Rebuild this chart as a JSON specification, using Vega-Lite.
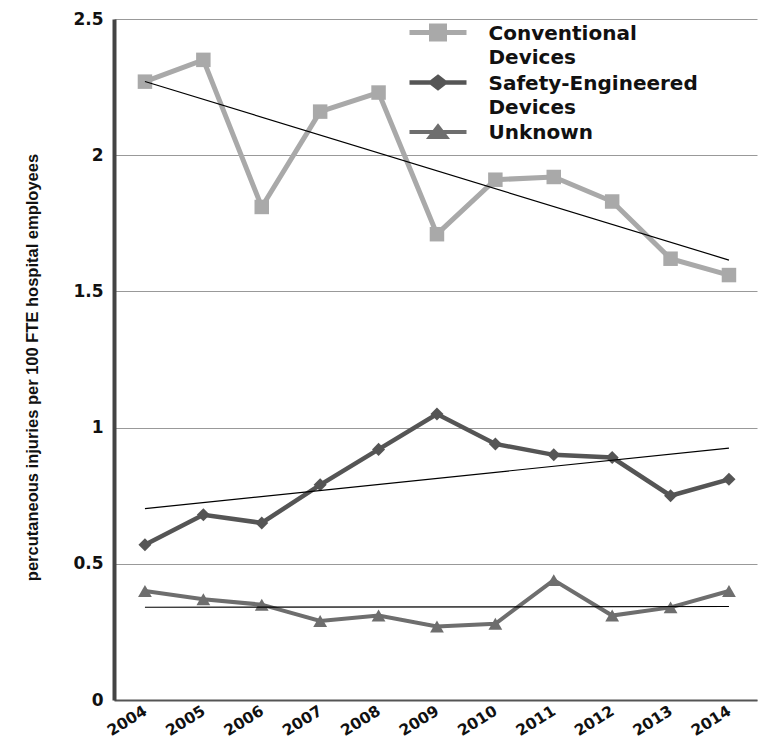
{
  "$schema": "https://vega.github.io/schema/vega-lite/v6.json",
  "width": 643,
  "height": 681,
  "autosize": {"type": "none"},
  "padding": {"left": 114, "top": 19, "right": 16, "bottom": 42},
  "background": "white",
  "config": {"view": {"stroke": null}, "font": "Liberation Sans"},
  "data": {
    "values": [
      {"year": 2004, "series": "Conventional Devices", "value": 2.27},
      {"year": 2005, "series": "Conventional Devices", "value": 2.35},
      {"year": 2006, "series": "Conventional Devices", "value": 1.81},
      {"year": 2007, "series": "Conventional Devices", "value": 2.16},
      {"year": 2008, "series": "Conventional Devices", "value": 2.23},
      {"year": 2009, "series": "Conventional Devices", "value": 1.71},
      {"year": 2010, "series": "Conventional Devices", "value": 1.91},
      {"year": 2011, "series": "Conventional Devices", "value": 1.92},
      {"year": 2012, "series": "Conventional Devices", "value": 1.83},
      {"year": 2013, "series": "Conventional Devices", "value": 1.62},
      {"year": 2014, "series": "Conventional Devices", "value": 1.56},
      {"year": 2004, "series": "Safety-Engineered Devices", "value": 0.57},
      {"year": 2005, "series": "Safety-Engineered Devices", "value": 0.68},
      {"year": 2006, "series": "Safety-Engineered Devices", "value": 0.65},
      {"year": 2007, "series": "Safety-Engineered Devices", "value": 0.79},
      {"year": 2008, "series": "Safety-Engineered Devices", "value": 0.92},
      {"year": 2009, "series": "Safety-Engineered Devices", "value": 1.05},
      {"year": 2010, "series": "Safety-Engineered Devices", "value": 0.94},
      {"year": 2011, "series": "Safety-Engineered Devices", "value": 0.9},
      {"year": 2012, "series": "Safety-Engineered Devices", "value": 0.89},
      {"year": 2013, "series": "Safety-Engineered Devices", "value": 0.75},
      {"year": 2014, "series": "Safety-Engineered Devices", "value": 0.81},
      {"year": 2004, "series": "Unknown", "value": 0.4},
      {"year": 2005, "series": "Unknown", "value": 0.37},
      {"year": 2006, "series": "Unknown", "value": 0.35},
      {"year": 2007, "series": "Unknown", "value": 0.29},
      {"year": 2008, "series": "Unknown", "value": 0.31},
      {"year": 2009, "series": "Unknown", "value": 0.27},
      {"year": 2010, "series": "Unknown", "value": 0.28},
      {"year": 2011, "series": "Unknown", "value": 0.44},
      {"year": 2012, "series": "Unknown", "value": 0.31},
      {"year": 2013, "series": "Unknown", "value": 0.34},
      {"year": 2014, "series": "Unknown", "value": 0.4}
    ]
  },
  "encoding": {
    "x": {
      "field": "year",
      "type": "quantitative",
      "scale": {"domain": [2003.47, 2014.48], "nice": false, "zero": false},
      "axis": {
        "values": [2004, 2005, 2006, 2007, 2008, 2009, 2010, 2011, 2012, 2013, 2014],
        "format": "d",
        "grid": false,
        "ticks": false,
        "labelAngle": -32,
        "labelAlign": "right",
        "labelBaseline": "middle",
        "labelPadding": 9,
        "labelFont": "DejaVu Sans",
        "labelFontWeight": "bold",
        "labelFontSize": 15.5,
        "labelColor": "#111111",
        "labelFlush": false,
        "labelOverlap": false,
        "domainColor": "#555555",
        "domainWidth": 2,
        "title": null
      }
    },
    "y": {
      "field": "value",
      "type": "quantitative",
      "scale": {"domain": [0, 2.5], "nice": false},
      "axis": {
        "values": [0, 0.5, 1, 1.5, 2, 2.5],
        "format": "~g",
        "ticks": false,
        "tickSize": 0,
        "labelFont": "DejaVu Sans",
        "labelFontWeight": "bold",
        "labelFontSize": 17,
        "labelColor": "#111111",
        "labelPadding": 11,
        "domainColor": "#444444",
        "domainWidth": 4,
        "gridColor": "#999999",
        "gridWidth": 1.2,
        "title": "percutaneous injuries per 100 FTE hospital employees",
        "titleFont": "Liberation Sans",
        "titleFontSize": 16.5,
        "titleFontWeight": "bold",
        "titleColor": "#111111",
        "titleAngle": -90,
        "titleX": -82,
        "titleY": 348,
        "titleAlign": "center",
        "titleBaseline": "middle"
      }
    }
  },
  "layer": [
    {
      "mark": {"type": "line"},
      "encoding": {
        "color": {
          "field": "series",
          "type": "nominal",
          "scale": {
            "domain": ["Conventional Devices", "Safety-Engineered Devices", "Unknown"],
            "range": ["#a9a9a9", "#555555", "#6e6e6e"]
          },
          "legend": {
            "title": null,
            "orient": "none",
            "legendX": 311.5,
            "legendY": 1,
            "padding": 0,
            "symbolSize": 400,
            "symbolStrokeWidth": 3.5,
            "labelFont": "DejaVu Sans",
            "labelFontWeight": "bold",
            "labelFontSize": 20,
            "labelColor": "#111111",
            "labelOffset": 38,
            "labelLimit": 400,
            "labelExpr": "split(datum.label, ' ')",
            "rowPadding": 0,
            "encode": {
              "symbols": {
                "update": {
                  "shape": {"signal": "datum.value == 'Conventional Devices' ? 'M-2.85,0H2.85M-0.65,-0.65H0.65V0.65H-0.65Z' : (datum.value == 'Safety-Engineered Devices' ? 'M-2.85,0H2.85M0,-0.55L0.7,0L0,0.55L-0.7,0Z' : 'M-2.85,0H2.85M0,-0.55L0.8,0.5L-0.8,0.5Z')"},
                  "fill": {"scale": "color", "field": "value"},
                  "stroke": {"scale": "color", "field": "value"},
                  "strokeWidth": {"value": 3.5},
                  "fillOpacity": {"value": 1},
                  "strokeOpacity": {"value": 1},
                  "opacity": {"value": 1}
                }
              },
              "labels": {
                "update": {
                  "baseline": {"value": "top"},
                  "dy": {"value": -9},
                  "lineHeight": {"value": 24}
                }
              }
            }
          }
        },
        "strokeWidth": {
          "field": "series",
          "type": "nominal",
          "scale": {
            "domain": ["Conventional Devices", "Safety-Engineered Devices", "Unknown"],
            "range": [5, 4, 3.5]
          },
          "legend": null
        }
      }
    },
    {
      "transform": [{"filter": "datum.series == 'Conventional Devices'"}],
      "mark": {"type": "point", "shape": "square", "filled": true, "opacity": 1, "size": 210},
      "encoding": {"color": {"field": "series", "type": "nominal", "legend": null}}
    },
    {
      "transform": [{"filter": "datum.series == 'Safety-Engineered Devices'"}],
      "mark": {"type": "point", "shape": "diamond", "filled": true, "opacity": 1, "size": 170},
      "encoding": {"color": {"field": "series", "type": "nominal", "legend": null}}
    },
    {
      "transform": [{"filter": "datum.series == 'Unknown'"}],
      "mark": {"type": "point", "shape": "triangle-up", "filled": true, "opacity": 1, "size": 190},
      "encoding": {"color": {"field": "series", "type": "nominal", "legend": null}}
    },
    {
      "transform": [{"regression": "value", "on": "year", "groupby": ["series"]}],
      "mark": {"type": "line", "color": "#000000", "strokeWidth": 1.2},
      "encoding": {"detail": {"field": "series", "type": "nominal"}}
    }
  ]
}
